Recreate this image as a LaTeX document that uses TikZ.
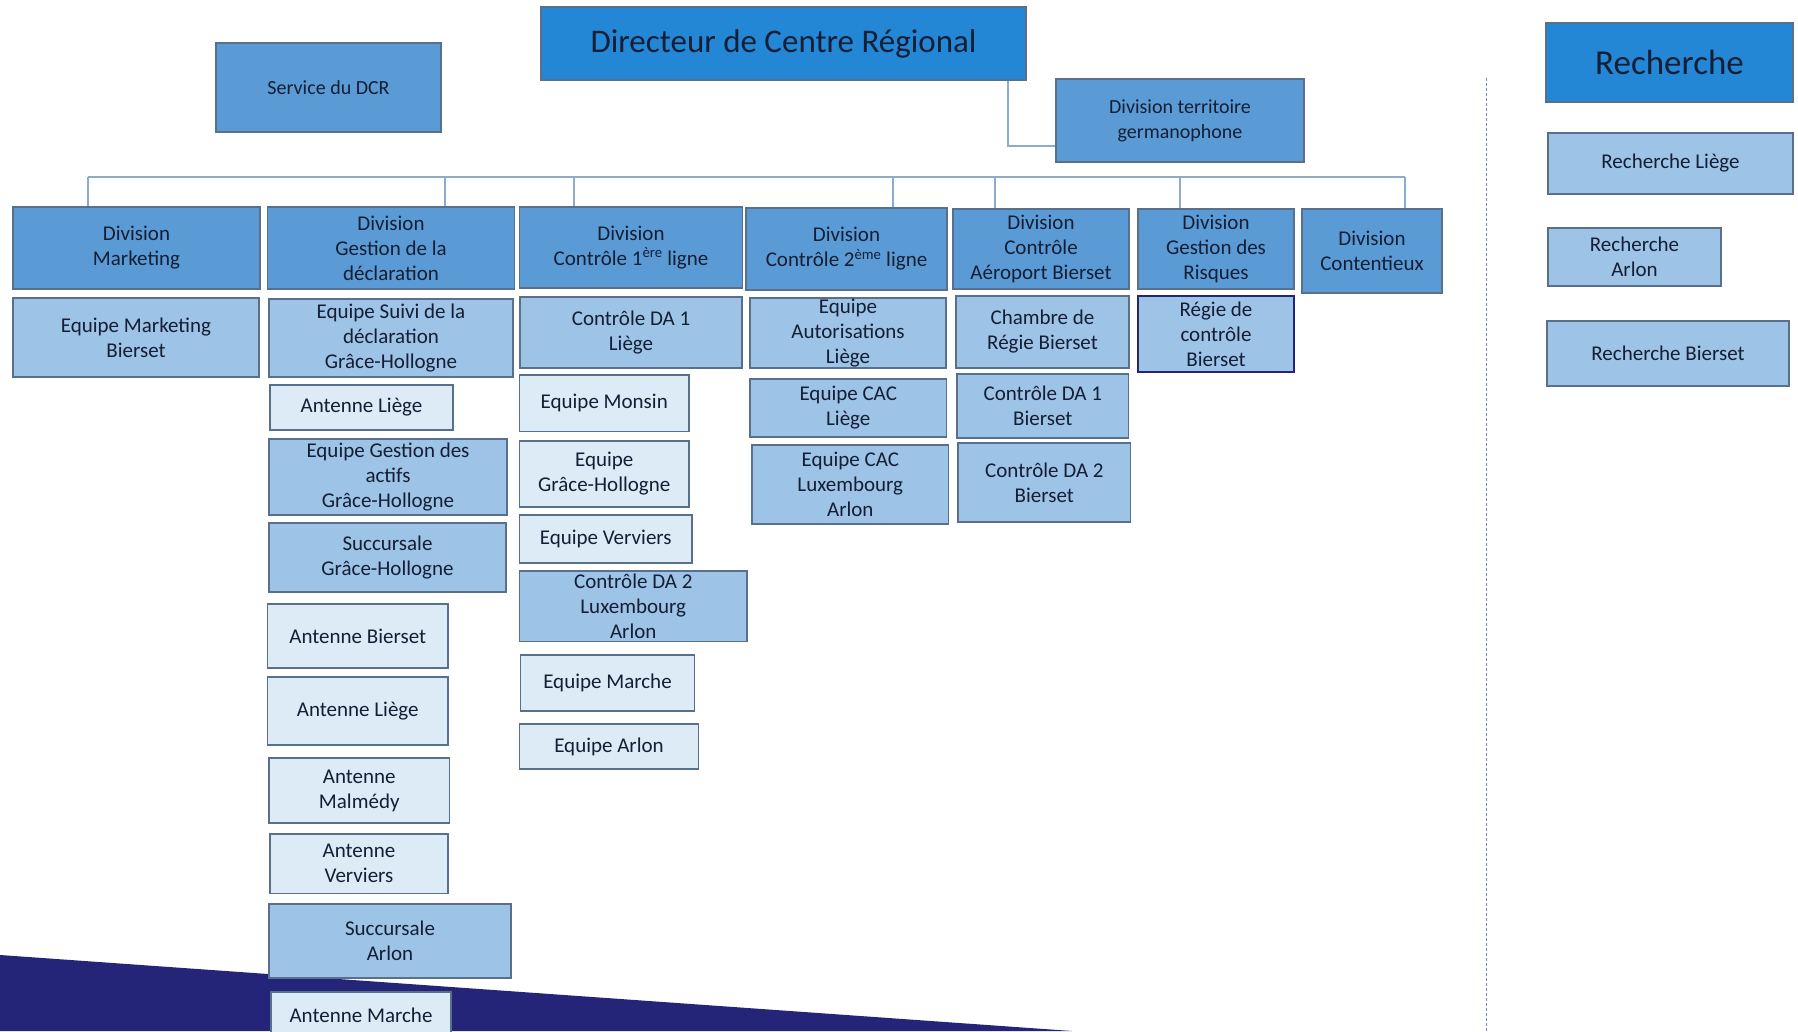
\documentclass[tikz,border=0pt]{standalone}
\usepackage{fontspec}
\setmainfont{Carlito}
\definecolor{headblue}{RGB}{35,135,214}
\definecolor{midblue}{RGB}{91,155,213}
\definecolor{lightblue}{RGB}{157,195,230}
\definecolor{paleblue}{RGB}{221,235,247}
\definecolor{edgegrey}{RGB}{88,112,140}
\definecolor{linkblue}{RGB}{140,172,204}
\definecolor{navy}{RGB}{36,36,120}
\definecolor{textnavy}{RGB}{20,30,52}

\begin{document}
\begin{tikzpicture}[x=1pt,y=-1pt,
    box_node/.style={draw=edgegrey,line width=1.2pt,inner sep=0pt,align=center,text=textnavy,font=\fontsize{21}{25}\selectfont},
    head_node/.style={box_node,fill=headblue,font=\fontsize{33}{38}\selectfont},
    div_node/.style={box_node,fill=midblue},
    team_node/.style={box_node,fill=lightblue},
    ant_node/.style={box_node,fill=paleblue},
    sz/.style 2 args={minimum width=#1pt,minimum height=#2pt},
    bus_line/.style={draw=linkblue,line width=2pt}]
    \useasboundingbox[fill=white] (0,0) rectangle (1798,1031);
    \fill[navy] (0,955) -- (1072,1031) -- (0,1031) -- cycle;
    \draw[densely dashed,draw=edgegrey!80,line width=1pt] (1486,78) -- (1486,1031);

        \node[head_node,sz={485}{73}] (1) at (783.5,43.5) {Directeur de Centre Régional};
        \node[div_node,sz={225}{89},font=\fontsize{20}{25}\selectfont] (2) at (328.5,87.5) {Service du DCR};
        \node[div_node,sz={248}{83},font=\fontsize{20}{25}\selectfont] (3) at (1180,120.5) {Division territoire\\germanophone};

        \node[div_node,sz={247}{82}] (4) at (136.5,248) {Division\\Marketing};
        \node[div_node,sz={247.5}{82}] (5) at (391,248) {Division\\Gestion de la\\déclaration};
        \node[div_node,sz={222.5}{81}] (6) at (631,247.5) {Division\\Contrôle 1\textsuperscript{ère} ligne};
        \node[div_node,sz={201}{82}] (7) at (846.5,249) {Division\\Contrôle 2\textsuperscript{ème} ligne};
        \node[div_node,sz={176}{80}] (8) at (1041,249) {Division\\Contrôle\\Aéroport Bierset};
        \node[div_node,sz={156}{80}] (9) at (1216,249) {Division\\Gestion des\\Risques};
        \node[div_node,sz={140}{84}] (10) at (1372,251) {Division\\Contentieux};

        \node[team_node,sz={246}{79}] (11) at (136,337.5) {Equipe Marketing\\Bierset};

        \node[team_node,sz={244}{78}] (12) at (391,338) {Equipe Suivi de la\\déclaration\\Grâce-Hollogne};
        \node[ant_node,sz={183}{45}] (13) at (361.5,407.5) {Antenne Liège};
        \node[team_node,sz={238}{76}] (14) at (388,477) {Equipe Gestion des\\actifs\\Grâce-Hollogne};
        \node[team_node,sz={237}{69}] (15) at (387.5,557.5) {Succursale\\Grâce-Hollogne};
        \node[ant_node,sz={180.5}{64}] (16) at (357.75,636) {Antenne Bierset};
        \node[ant_node,sz={180.5}{68}] (17) at (357.75,711) {Antenne Liège};
        \node[ant_node,sz={180.5}{65}] (18) at (359.25,790.5) {Antenne\\Malmédy};
        \node[ant_node,sz={178}{59.5}] (19) at (359,863.75) {Antenne\\Verviers};
        \node[team_node,sz={242}{74}] (20) at (390,941) {Succursale\\Arlon};
        \node[ant_node,sz={180}{46}] (21) at (361,1015) {Antenne Marche};

        \node[team_node,sz={222}{71}] (22) at (631,332.5) {Contrôle DA 1\\Liège};
        \node[ant_node,sz={169.5}{56.5}] (23) at (604.25,403.25) {Equipe Monsin};
        \node[ant_node,sz={169.5}{66}] (24) at (604.25,474) {Equipe\\Grâce-Hollogne};
        \node[ant_node,sz={172.5}{48}] (25) at (605.75,539) {Equipe Verviers};
        \node[team_node,sz={227.5}{70.5}] (26) at (633.25,606.25) {Contrôle DA 2\\Luxembourg\\Arlon};
        \node[ant_node,sz={174}{56}] (27) at (607.5,683) {Equipe Marche};
        \node[ant_node,sz={179}{45}] (28) at (609,746.5) {Equipe Arlon};

        \node[team_node,sz={196}{70}] (29) at (848,333) {Equipe\\Autorisations\\Liège};
        \node[team_node,sz={196.5}{58}] (30) at (848.25,408) {Equipe CAC\\Liège};
        \node[team_node,sz={196.6}{79}] (31) at (850.3,484.5) {Equipe CAC\\Luxembourg\\Arlon};

        \node[team_node,sz={173}{72}] (32) at (1042.5,332) {Chambre de\\Régie Bierset};
        \node[team_node,sz={171.6}{64}] (33) at (1042.8,406) {Contrôle DA 1\\Bierset};
        \node[team_node,sz={172.7}{79}] (34) at (1044.35,482.5) {Contrôle DA 2\\Bierset};

        \node[team_node,sz={156}{76},draw=navy,line width=2pt] (35) at (1216,334) {Régie de\\contrôle\\Bierset};

        \node[head_node,sz={247}{79},font=\fontsize{35}{40}\selectfont] (36) at (1669.5,62.5) {Recherche};
        \node[team_node,sz={245}{61}] (37) at (1670.5,163.5) {Recherche Liège};
        \node[team_node,sz={173}{58}] (38) at (1634.5,257) {Recherche\\Arlon};
        \node[team_node,sz={242}{65}] (39) at (1668,353.5) {Recherche Bierset};

        \coordinate (b1) at (88,177);
        \coordinate (b2) at (1405,177);
        \draw[bus_line] (b1) -- (b2);
        \draw[bus_line] (b1) -- (b1 |- 4.north);
        \foreach \n/\x in {5/445,6/574,7/893,8/995,9/1180,10/1405}
            \draw[bus_line] (\x,177) -- (\x,0 |- \n.north);
        \draw[bus_line] (1.south -| 1008,0) |- (3.west |- 0,146);
    \end{tikzpicture}
\end{document}
